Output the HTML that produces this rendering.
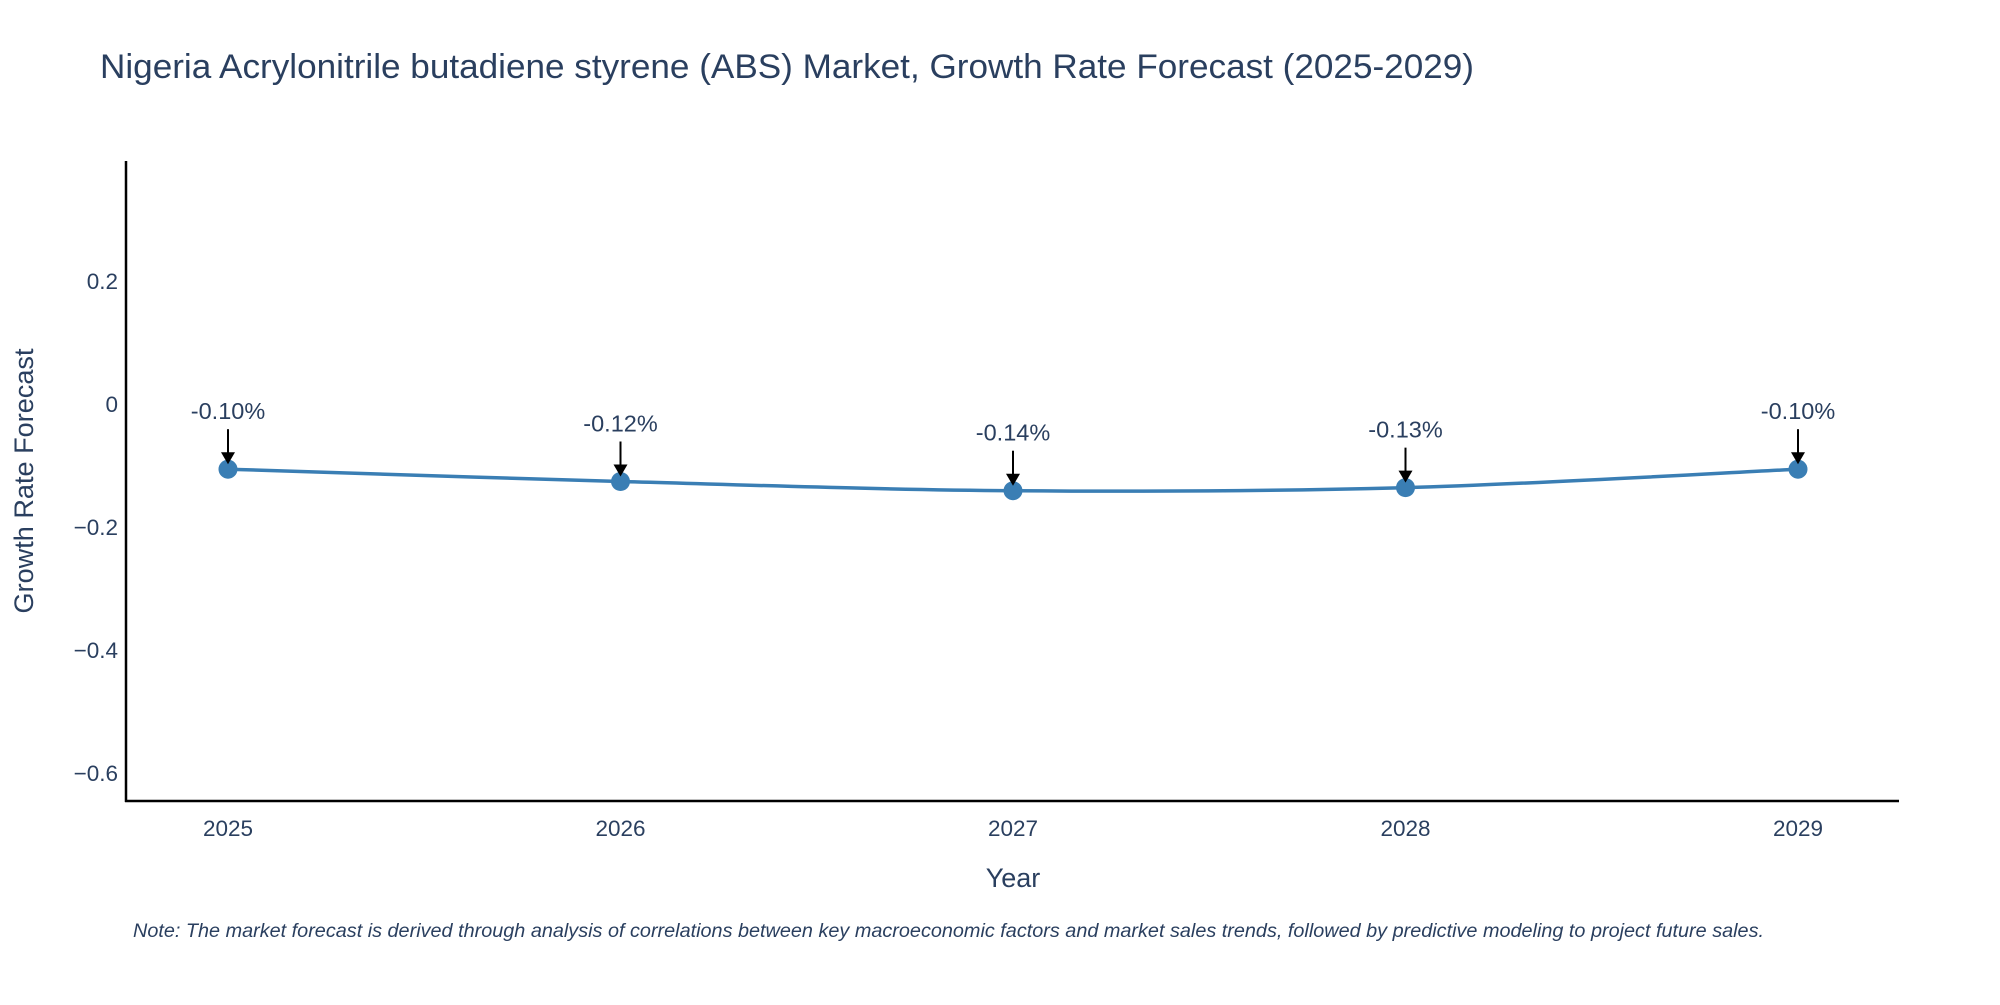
<!DOCTYPE html>
<html><head><meta charset="utf-8"><style>
body{margin:0;background:#fff;font-family:"Liberation Sans","DejaVu Sans",sans-serif}
</style></head><body>
<svg id="chart" width="2000" height="1000" xmlns="http://www.w3.org/2000/svg">
<rect width="2000" height="1000" fill="#fff"/>
<text x="100" y="78" font-size="34" fill="#2a3f5f" textLength="1374" lengthAdjust="spacingAndGlyphs">Nigeria Acrylonitrile butadiene styrene (ABS) Market, Growth Rate Forecast (2025-2029)</text>
<g id="yticks"></g><g id="xticks"></g>
<line x1="126" y1="161" x2="126" y2="802" stroke="#000" stroke-width="2.5"/>
<line x1="125" y1="801" x2="1899" y2="801" stroke="#000" stroke-width="2.5"/>
<path id="line" fill="none" stroke="#3a7eb4" stroke-width="3.5"/>
<g id="points"></g>
<text transform="translate(33,481) rotate(-90)" text-anchor="middle" font-size="27" fill="#2a3f5f" textLength="265" lengthAdjust="spacingAndGlyphs">Growth Rate Forecast</text>
<text x="1013" y="887" text-anchor="middle" font-size="27" fill="#2a3f5f">Year</text>
<text x="133" y="937" font-size="19" font-style="italic" fill="#2a3f5f" textLength="1631" lengthAdjust="spacingAndGlyphs">Note: The market forecast is derived through analysis of correlations between key macroeconomic factors and market sales trends, followed by predictive modeling to project future sales.</text>
</svg>
<script>
const years=[2025,2026,2027,2028,2029];
const values=[-0.106,-0.126,-0.141,-0.136,-0.106];
const labels=["-0.10%","-0.12%","-0.14%","-0.13%","-0.10%"];
const yTicks=[0.2,0,-0.2,-0.4,-0.6];
const yTickLabels=["0.2","0","\u22120.2","\u22120.4","\u22120.6"];
const NS="http://www.w3.org/2000/svg";
const xs=y=>228+(y-2025)*392.5;
const ys=v=>404-v*615;
function mk(t,a,p){const e=document.createElementNS(NS,t);for(const k in a)e.setAttribute(k,a[k]);p.appendChild(e);return e;}
const yg=document.getElementById('yticks');
yTicks.forEach((v,i)=>{const t=mk('text',{x:118,y:ys(v)+8,'text-anchor':'end','font-size':22.5,fill:'#2a3f5f'},yg);t.textContent=yTickLabels[i];

});
const xg=document.getElementById('xticks');
years.forEach(y=>{const t=mk('text',{x:xs(y),y:836,'text-anchor':'middle','font-size':22.5,fill:'#2a3f5f'},xg);t.textContent=y;

});
const P=years.map((y,i)=>[xs(y),ys(values[i])]);
let d=`M${P[0][0]},${P[0][1]}`;
for(let i=0;i<P.length-1;i++){const p0=P[Math.max(0,i-1)],p1=P[i],p2=P[i+1],p3=P[Math.min(P.length-1,i+2)];
const c1=[p1[0]+(p2[0]-p0[0])/6,p1[1]+(p2[1]-p0[1])/6],c2=[p2[0]-(p3[0]-p1[0])/6,p2[1]-(p3[1]-p1[1])/6];
d+=` C${c1[0]},${c1[1]} ${c2[0]},${c2[1]} ${p2[0]},${p2[1]}`;}
document.getElementById('line').setAttribute('d',d);
const pg=document.getElementById('points');
P.forEach((p,i)=>{const c=mk('circle',{cx:p[0],cy:p[1],r:9.5,fill:'#3a7eb4'},pg);


const l=mk('line',{x1:p[0],y1:p[1]-40,x2:p[0],y2:p[1]-14,stroke:'#000','stroke-width':2},pg);


const h=mk('polygon',{points:`${p[0]-7},${p[1]-17} ${p[0]+7},${p[1]-17} ${p[0]},${p[1]-5}`,fill:'#000'},pg);


const t=mk('text',{x:p[0],y:p[1]-50,'text-anchor':'middle','font-size':23.5,fill:'#2a3f5f'},pg);t.textContent=labels[i];

});
</script>
</body></html>
